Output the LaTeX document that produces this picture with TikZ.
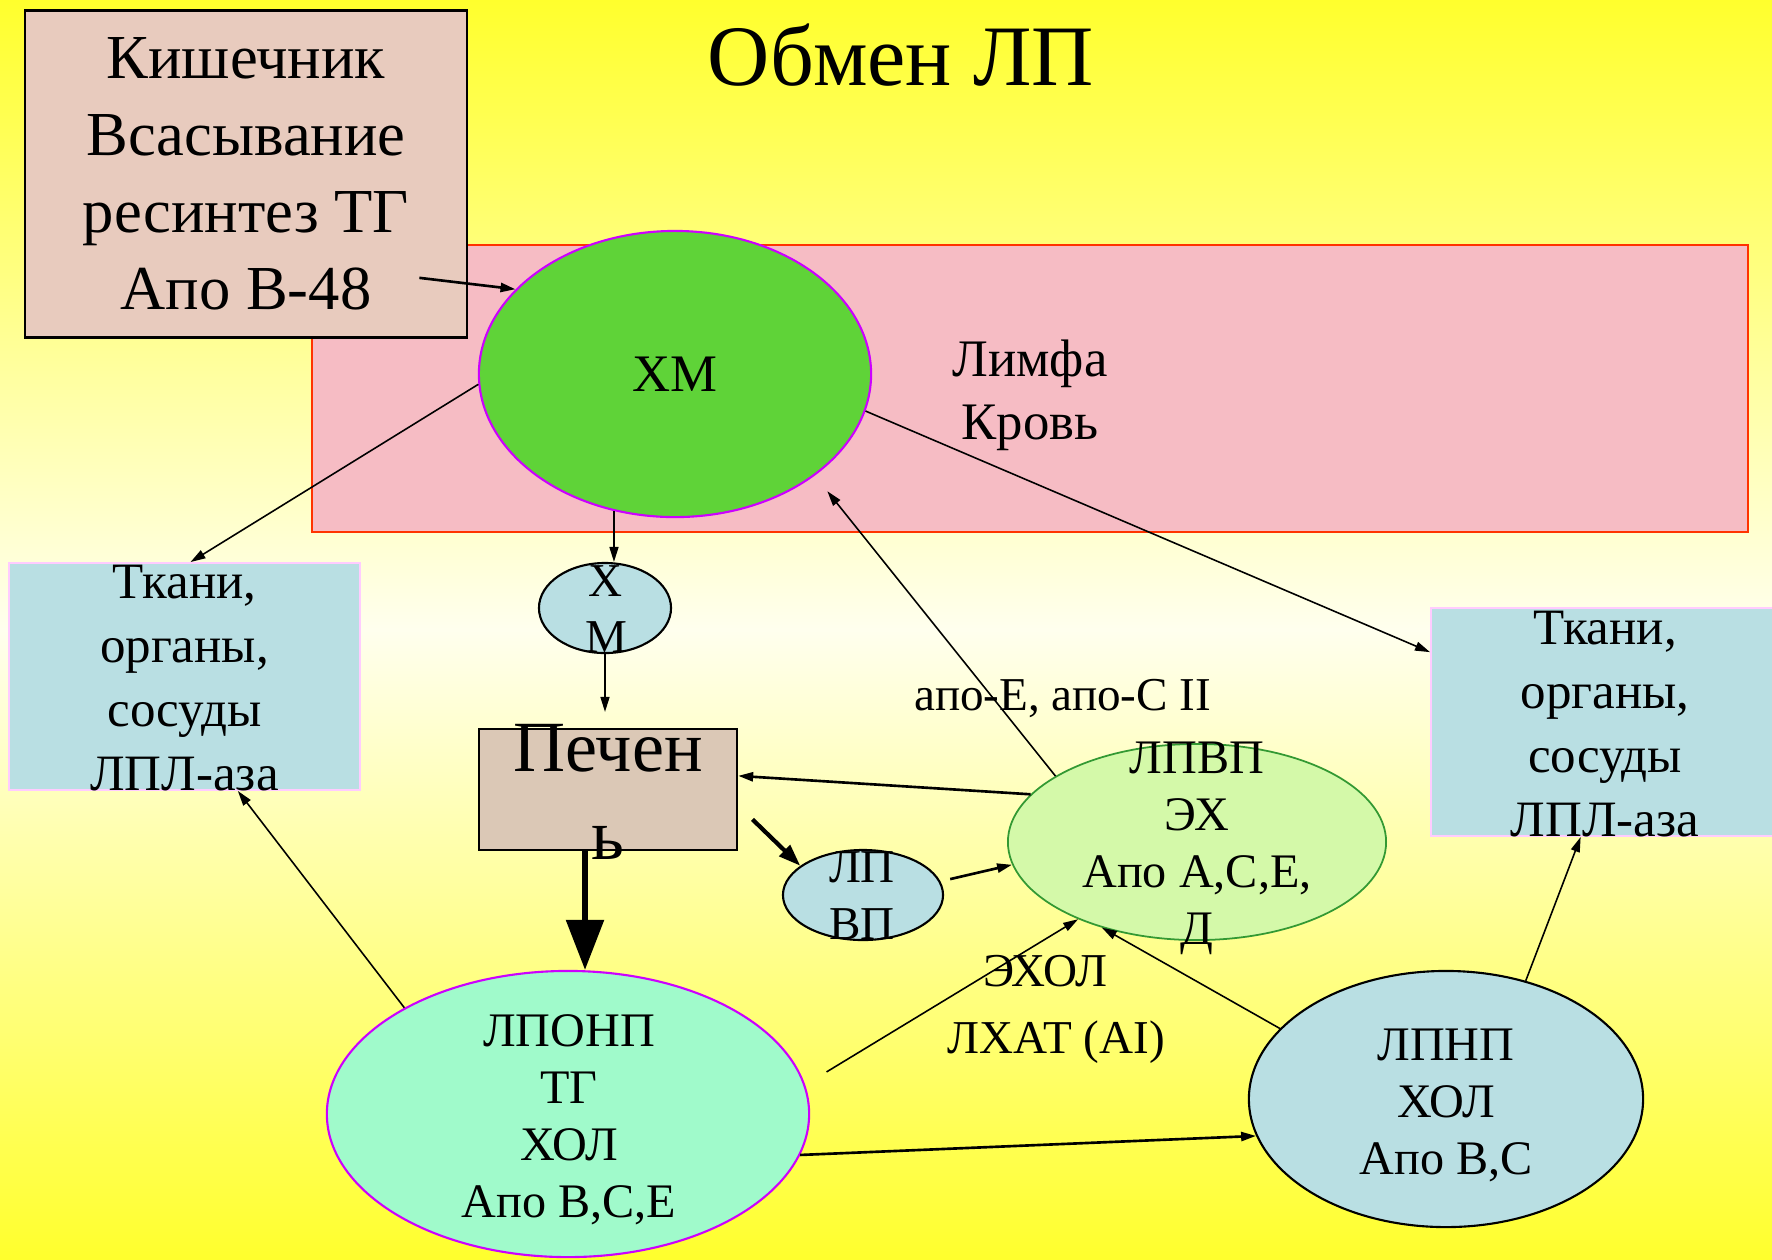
\documentclass[tikz,border=0pt]{standalone}
\usepackage{fontspec}
\setmainfont{Liberation Serif}
\usetikzlibrary{arrows.meta,calc,shapes.geometric}

\definecolor{bgyellow}{RGB}{255,255,45}
\definecolor{bgpale}{RGB}{255,255,238}
\definecolor{kishfill}{RGB}{232,203,190}
\definecolor{bloodfill}{RGB}{246,188,196}
\definecolor{bloodline}{RGB}{255,51,0}
\definecolor{hmfill}{RGB}{95,211,56}
\definecolor{violetline}{RGB}{204,0,255}
\definecolor{tissuefill}{RGB}{185,223,227}
\definecolor{tissueline}{RGB}{255,204,255}
\definecolor{liverfill}{RGB}{219,200,182}
\definecolor{hdlfill}{RGB}{212,249,169}
\definecolor{hdlline}{RGB}{51,153,51}
\definecolor{vldlfill}{RGB}{160,250,203}

\begin{document}
\begin{tikzpicture}[x=0.01cm, y=-0.01cm,
    >={Triangle[length=0.15cm,width=0.09cm]},
    every node/.style={inner sep=0pt},
    txt/.style={align=center, font=\fontsize{13.7}{16.2}\selectfont},
    tissuebox/.style={draw=tissueline, line width=0.5pt, fill=tissuefill,
      minimum width=3.51cm, minimum height=2.27cm},
    blob/.style={ellipse, draw=black, line width=0.6pt, fill=tissuefill},
    link/.style={->, line width=0.45pt},
    linkbold/.style={->, line width=0.75pt}]

  % background
  \shade[top color=bgyellow, bottom color=bgyellow, middle color=bgpale] (0,0) rectangle (1772,1259);
  \useasboundingbox (0,0) rectangle (1772,1259);

  % lymph and blood
  \node[draw=bloodline, fill=bloodfill, line width=0.6pt, minimum width=14.36cm, minimum height=2.87cm] (blood) at (1030,388.5) {};
  \node[txt, font=\fontsize{15}{17.9}\selectfont] (lymph) at (1030,395) {Лимфа\\Кровь};

  % intestine
  \node[draw, fill=kishfill, line width=0.7pt, minimum width=4.42cm, minimum height=3.27cm,
    align=center, font=\fontsize{17.8}{21.9}\selectfont] (kish) at (246,174)
    {Кишечник\\Всасывание\\ресинтез ТГ\\Апо В-48};

  \node[font=\fontsize{24.5}{30}\selectfont] (title) at (901,55) {Обмен ЛП};

  % chylomicrons
  \node[blob, fill=hmfill, draw=violetline, minimum width=3.92cm, minimum height=2.86cm,
    font=\fontsize{15}{18}\selectfont] (hm) at (675,374) {ХМ};

  % tissues
  \node[tissuebox] (tkL) at (184.5,676.5) {};
  \node[txt, font=\fontsize{14.5}{18.2}\selectfont] (tkLtext) at (184.5,678) {Ткани,\\органы,\\сосуды\\ЛПЛ-аза};
  \node[tissuebox, minimum width=3.44cm, minimum height=2.28cm] (tkR) at (1603,722) {};
  \node[txt, font=\fontsize{14.5}{18.2}\selectfont] (tkRtext) at (1605,724) {Ткани,\\органы,\\сосуды\\ЛПЛ-аза};

  % remnant chylomicrons
  \node[blob, minimum width=1.32cm, minimum height=0.9cm] (sxm) at (605,608) {};
  \node[txt, font=\fontsize{13.4}{16}\selectfont] (sxmtext) at (606,609) {Х\\М};

  % liver
  \node[draw, fill=liverfill, line width=0.6pt, minimum width=2.58cm, minimum height=1.21cm] (pech) at (608,789.5) {};
  \node[txt, font=\fontsize{20.5}{25}\selectfont] (pechtext) at (608,791.5) {Печен\\ь};

  \node[blob, minimum width=1.6cm, minimum height=0.9cm] (lp) at (863,895) {};
  \node[txt, font=\fontsize{13.4}{16.2}\selectfont] (lptext) at (862,896) {ЛП\\ВП};

  % HDL, VLDL, LDL
  \node[blob, fill=hdlfill, draw=hdlline, line width=0.5pt, minimum width=3.78cm, minimum height=1.96cm] (lpvp) at (1197,842) {};
  \node[txt] (lpvptext) at (1197,848) {ЛПВП\\ЭХ\\Апо А,С,Е,\\Д};

  \node[blob, fill=vldlfill, draw=violetline, minimum width=4.82cm, minimum height=2.86cm] (lponp) at (568,1114) {};
  \node[txt] (lponptext) at (569,1120) {ЛПОНП\\ТГ\\ХОЛ\\Апо В,С,Е};

  \node[blob, minimum width=3.94cm, minimum height=2.56cm] (lpnp) at (1446,1099) {};
  \node[txt] (lpnptext) at (1446,1105) {ЛПНП\\ХОЛ\\Апо В,С};

  % enzymes and apoproteins
  \node[txt, font=\fontsize{13.4}{16}\selectfont] (apo) at (1063,698) {апо-Е, апо-С II};
  \node[txt, font=\fontsize{13.4}{16}\selectfont] (ehol) at (1045,971) {ЭХОЛ};
  \node[txt, font=\fontsize{13.4}{16}\selectfont] (lhat) at (1056,1042) {ЛХАТ (AI)};

  % arrows
  \coordinate (kishout) at ($(kish.south east)+(-49,-61)$);
  \draw[linkbold] (kishout) -- (hm.152);
  \draw[link] (hm.183) -- (tkL.87);
  \draw[link] (hm.-11) -- (tkR.158);
  \draw[link] (hm.-114) -- (hm.-114 |- sxm.north);
  \draw[link, shorten >=0.16cm] (sxm.south) -- (sxm.south |- pech.north);
  \coordinate (pechout) at ($(pech.south)+(-23,0)$);
  \draw[line width=1.6pt, -{Triangle[length=0.5cm,width=0.37cm]}] (pechout) -- (pechout |- lponp.north);
  \draw[line width=1.2pt, -{Triangle[length=0.22cm,width=0.15cm]}, shorten <=0.2cm] (pech.-7) -- (lp.155);
  \draw[linkbold, shorten <=0.1cm] (lp.10) -- (lpvp.187);
  \draw[linkbold] (lpvp.164) -- (pech.6);
  \draw[link, shorten >=0.2cm] (lpvp.155) -- (hm.-36);
  \draw[link] (lponp.147) -- (tkL.-65);
  \draw[link, shorten <=0.25cm] (lponp.7) -- (lpvp.213);
  \draw[linkbold] (lponp.-10) -- (lpnp.191);
  \draw[link] (lpnp.157) -- (lpvp.222);
  \draw[link] (lpnp.56) -- (tkR.-101);
\end{tikzpicture}
\end{document}
